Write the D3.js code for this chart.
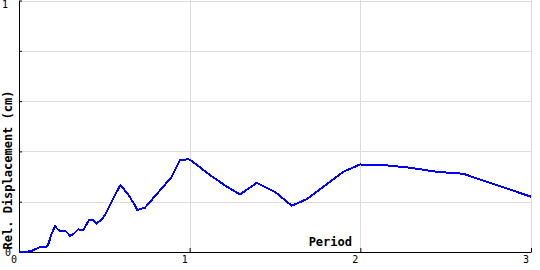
<!DOCTYPE html>
<html>
<head>
<meta charset="utf-8">
<script src="https://cdn.jsdelivr.net/npm/d3@7"></script>
<style>
  html, body { margin: 0; padding: 0; background: #fff; }
  svg { display: block; }
  text { font-family: "DejaVu Sans Mono", monospace; }
</style>
</head>
<body>
<div id="chart"></div>
<script>
// period (s) and relative displacement (cm)
const period = [0, 0.03, 0.074, 0.094, 0.123, 0.162, 0.172, 0.192, 0.211, 0.227, 0.240,
  0.270, 0.279, 0.299, 0.318, 0.347, 0.377, 0.410, 0.435, 0.455, 0.485, 0.504,
  0.562, 0.594, 0.640, 0.676, 0.693, 0.738, 0.895, 0.943, 0.992, 1.012, 1.119,
  1.217, 1.295, 1.393, 1.500, 1.598, 1.686, 1.900, 1.998, 2.145, 2.291, 2.447,
  2.603, 3.0];
const displacement = [0, 0, 0.004, 0.011, 0.019, 0.021, 0.032, 0.074, 0.103, 0.090, 0.083,
  0.085, 0.079, 0.065, 0.071, 0.090, 0.087, 0.127, 0.127, 0.114, 0.130, 0.147,
  0.226, 0.266, 0.229, 0.189, 0.167, 0.176, 0.299, 0.365, 0.369, 0.362, 0.306,
  0.260, 0.229, 0.275, 0.239, 0.184, 0.210, 0.319, 0.348, 0.345, 0.335, 0.319,
  0.311, 0.220];

const xTicks = [0, 1, 2, 3];
const yTicks = [0, 0.2, 0.4, 0.6, 0.8, 1];
const yLabels = [0, 1];

const width = 540, height = 270;
const plotLeft = 19, plotRight = 531, plotTop = 0.5, plotBottom = 252;

const svg = d3.select('#chart').append('svg')
  .attr('width', width)
  .attr('height', height);

const x = d3.scaleLinear().domain([0, 3]).range([plotLeft, plotRight]);
const y = d3.scaleLinear().domain([0, 1]).range([plotBottom, plotTop]);

// grid
svg.append('g')
  .selectAll('line.hgrid')
  .data(yTicks.filter(d => d > 0))
  .join('line')
    .attr('class', 'hgrid')
    .attr('x1', plotLeft).attr('x2', plotRight + 1)
    .attr('y1', d => Math.round(y(d)) + 0.5)
    .attr('y2', d => Math.round(y(d)) + 0.5)
    .attr('stroke', '#dcdcdc');
svg.append('g')
  .selectAll('line.vgrid')
  .data(xTicks.filter(d => d > 0))
  .join('line')
    .attr('class', 'vgrid')
    .attr('x1', d => Math.round(x(d)) + 0.5)
    .attr('x2', d => Math.round(x(d)) + 0.5)
    .attr('y1', 0).attr('y2', plotBottom)
    .attr('stroke', '#dcdcdc');

// axes, ticks pointing inward
const xAxis = svg.append('g')
  .attr('transform', `translate(0,${plotBottom})`)
  .call(d3.axisTop(x).tickValues(xTicks).tickSize(4).tickSizeOuter(0).tickFormat(''));
const yAxis = svg.append('g')
  .attr('transform', `translate(${plotLeft},0)`)
  .call(d3.axisRight(y).tickValues(yTicks).tickSize(3).tickSizeOuter(0).tickFormat(''));
for (const g of [xAxis, yAxis]) {
  g.select('.domain').attr('stroke', '#000');
  g.selectAll('.tick line').attr('stroke', '#000');
}

// tick labels
svg.append('g')
  .selectAll('text')
  .data(xTicks)
  .join('text')
    .attr('x', d => Math.min(x(d) - 2, width - 8))
    .attr('y', plotBottom + 11)
    .attr('text-anchor', 'end')
    .style('font-size', '10px')
    .text(d => d);
svg.append('g')
  .selectAll('text')
  .data(yLabels)
  .join('text')
    .attr('x', d => d === 1 ? 8 : 11)
    .attr('y', d => d === 1 ? 8 : y(d) + 4)
    .attr('text-anchor', 'end')
    .style('font-size', '10px')
    .text(d => d);

// titles
svg.append('text')
  .attr('x', 352)
  .attr('y', 246)
  .attr('text-anchor', 'end')
  .style('font-size', '12px')
  .style('font-weight', 'bold')
  .text('Period');
svg.append('text')
  .attr('transform', 'translate(12,170) rotate(-90)')
  .attr('text-anchor', 'middle')
  .style('font-size', '12px')
  .style('font-weight', 'bold')
  .text('Rel. Displacement (cm)');

// curve (drawn without anti-aliasing, like the original)
const line = d3.line()
  .x(d => x(d[0]))
  .y(d => y(d[1]));
svg.append('path')
  .datum(d3.zip(period, displacement))
  .attr('fill', 'none')
  .attr('stroke', '#0000ff')
  .attr('stroke-width', 2)
  .attr('shape-rendering', 'crispEdges')
  .attr('d', line);
</script>
</body>
</html>
